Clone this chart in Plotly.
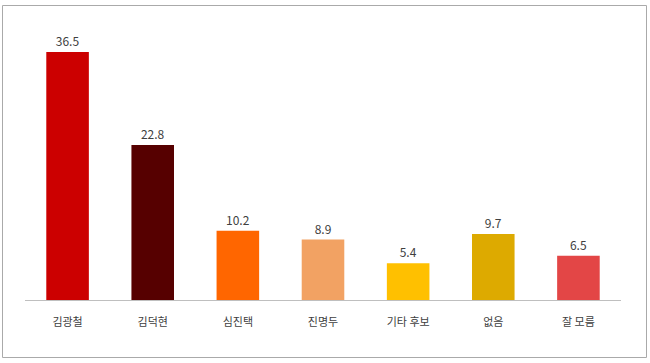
import plotly.graph_objects as go

categories = ["김광철", "김덕현", "심진택", "진명두", "기타 후보", "없음", "잘 모름"]
values = [36.5, 22.8, 10.2, 8.9, 5.4, 9.7, 6.5]
colors = ["#CC0000", "#560000", "#FF6600", "#F2A263", "#FFC000", "#DDAA00", "#E34646"]

fig = go.Figure(go.Bar(
    x=categories, y=values,
    marker=dict(color=colors, line=dict(width=0)),
    text=[f"{v:.1f}" for v in values],
    textposition="outside",
    textfont=dict(size=12, color="#404040"),
    cliponaxis=False,
))

L, R, T, B = 25, 29, 20, 63
W, H = 650, 363
pw, ph = W - L - R, H - T - B

def px(x):
    return (x - L) / pw

def py(y):
    return (H - B - y) / ph

fig.update_layout(
    width=W, height=H,
    margin=dict(l=L, r=R, t=T, b=B, autoexpand=False),
    paper_bgcolor="white", plot_bgcolor="white",
    bargap=0.5,
    showlegend=False,
    font=dict(family="Noto Sans CJK KR, Noto Sans, sans-serif", color="#404040", size=11),
    xaxis=dict(showline=True, linecolor="#BFBFBF", linewidth=1, ticks="",
               ticklabelstandoff=12,
               tickfont=dict(size=11, color="#404040"), showgrid=False),
    yaxis=dict(range=[0, 41.2], visible=False, showgrid=False),
    shapes=[dict(type="rect", xref="paper", yref="paper",
                 x0=px(2.5), x1=px(646.5), y0=py(5.5), y1=py(357.5),
                 line=dict(color="#AAAAAA", width=1), fillcolor="rgba(0,0,0,0)", layer="below")],
)

fig.write_html("out.html", config={"displayModeBar": False},
               post_script="document.body.style.margin='0';document.body.style.overflow='hidden';")
